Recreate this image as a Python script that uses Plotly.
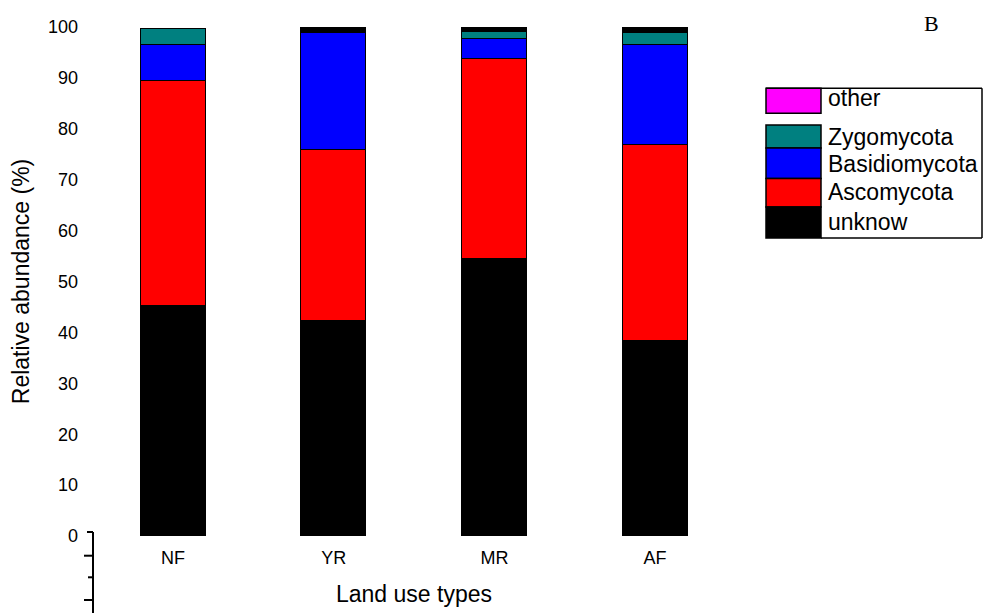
import plotly.graph_objects as go

# Relative abundance (%) of fungal phyla per land use type
land_use = ["NF", "YR", "MR", "AF"]
unknow = [45.2, 42.2, 54.4, 38.3]
ascomycota = [44.2, 33.6, 39.3, 38.5]
basidiomycota = [7.1, 23.0, 3.9, 19.7]
zygomycota = [3.2, 0.0, 1.5, 2.4]
other = [None, None, None, None]
unassigned = [None, 1.2, 0.9, 1.1]

y_ticks = list(range(0, 101, 10))

series = [
    ("unknow", unknow, "#000000"),
    ("Ascomycota", ascomycota, "#ff0000"),
    ("Basidiomycota", basidiomycota, "#0000ff"),
    ("Zygomycota", zygomycota, "#008080"),
    ("other", other, "#ff00ff"),
    ("unknow", unassigned, "#000000"),
]

W, H = 985, 613
ML, MR_, MT, MB = 93, 250, 27, 77
PW, PH = W - ML - MR_, H - MT - MB
SPACING = 160.7  # px between category centres
FONT = "Liberation Sans, Arial, sans-serif"

fig = go.Figure()
for name, vals, color in series:
    fig.add_trace(go.Bar(
        x=land_use, y=vals, name=name,
        marker=dict(color=color, line=dict(color="#000000", width=1)),
        width=65 / SPACING, showlegend=False,
    ))


def px(x):
    return (x - ML) / PW


def py(y):
    return (H - MB - y) / PH


shapes = []
# lower spine of the y axis with its minor ticks
shapes.append(dict(type="line", xref="paper", yref="paper",
                   x0=px(93), x1=px(93), y0=py(532), y1=py(613),
                   line=dict(color="#000000", width=2)))
for yy, x0 in [(532, 87), (555.7, 84), (577.3, 88), (600, 84)]:
    shapes.append(dict(type="line", xref="paper", yref="paper",
                       x0=px(x0), x1=px(93), y0=py(yy), y1=py(yy),
                       line=dict(color="#000000", width=2)))

# legend: swatches, frame and labels
legend_rows = [
    ("other", "#ff00ff", 88.3, 113.3, 98),
    ("Zygomycota", "#008080", 125, 148, 136.5),
    ("Basidiomycota", "#0000ff", 148, 178.5, 164),
    ("Ascomycota", "#ff0000", 178.5, 207, 192),
    ("unknow", "#000000", 207, 238, 222),
]
annotations = []
for label, color, top, bottom, mid in legend_rows:
    shapes.append(dict(type="rect", xref="paper", yref="paper",
                       x0=px(766), x1=px(821), y0=py(bottom), y1=py(top),
                       fillcolor=color, line=dict(color="#000000", width=1.5)))
    annotations.append(dict(text=label, xref="paper", yref="paper",
                            x=px(826), y=py(mid), xanchor="left", yanchor="middle",
                            showarrow=False, font=dict(family=FONT, size=23, color="#000000")))
for x0, y0, x1, y1 in [(766, 88.3, 982, 88.3), (982, 88.3, 982, 238),
                       (821, 238, 982, 238)]:
    shapes.append(dict(type="line", xref="paper", yref="paper",
                       x0=px(x0), x1=px(x1), y0=py(y0), y1=py(y1),
                       line=dict(color="#000000", width=1.5)))

annotations.append(dict(text="B", xref="paper", yref="paper", x=px(931), y=py(23),
                        xanchor="center", yanchor="middle", showarrow=False,
                        font=dict(family="Liberation Serif, Times New Roman, serif",
                                  size=22, color="#000000")))

fig.update_layout(
    barmode="stack",
    width=W, height=H,
    margin=dict(l=ML, r=MR_, t=MT, b=MB, pad=0),
    plot_bgcolor="#ffffff", paper_bgcolor="#ffffff",
    font=dict(family=FONT, color="#000000"),
    shapes=shapes, annotations=annotations,
    bargap=0,
)
fig.update_xaxes(
    type="category", range=[-80 / SPACING, -80 / SPACING + PW / SPACING],
    showline=False, showgrid=False, zeroline=False, ticks="",
    tickfont=dict(size=18), ticklabelstandoff=9, automargin=False,
    title=dict(text="Land use types", font=dict(size=23), standoff=18),
)
fig.update_yaxes(
    range=[0, 100], tickvals=y_ticks, ticktext=[str(v) for v in y_ticks],
    showline=False, showgrid=False, zeroline=False, ticks="",
    tickfont=dict(size=18), ticklabelstandoff=14, automargin=False,
    title=dict(text="Relative abundance (%)", font=dict(size=23), standoff=11),
)

fig.write_html("out.html")
